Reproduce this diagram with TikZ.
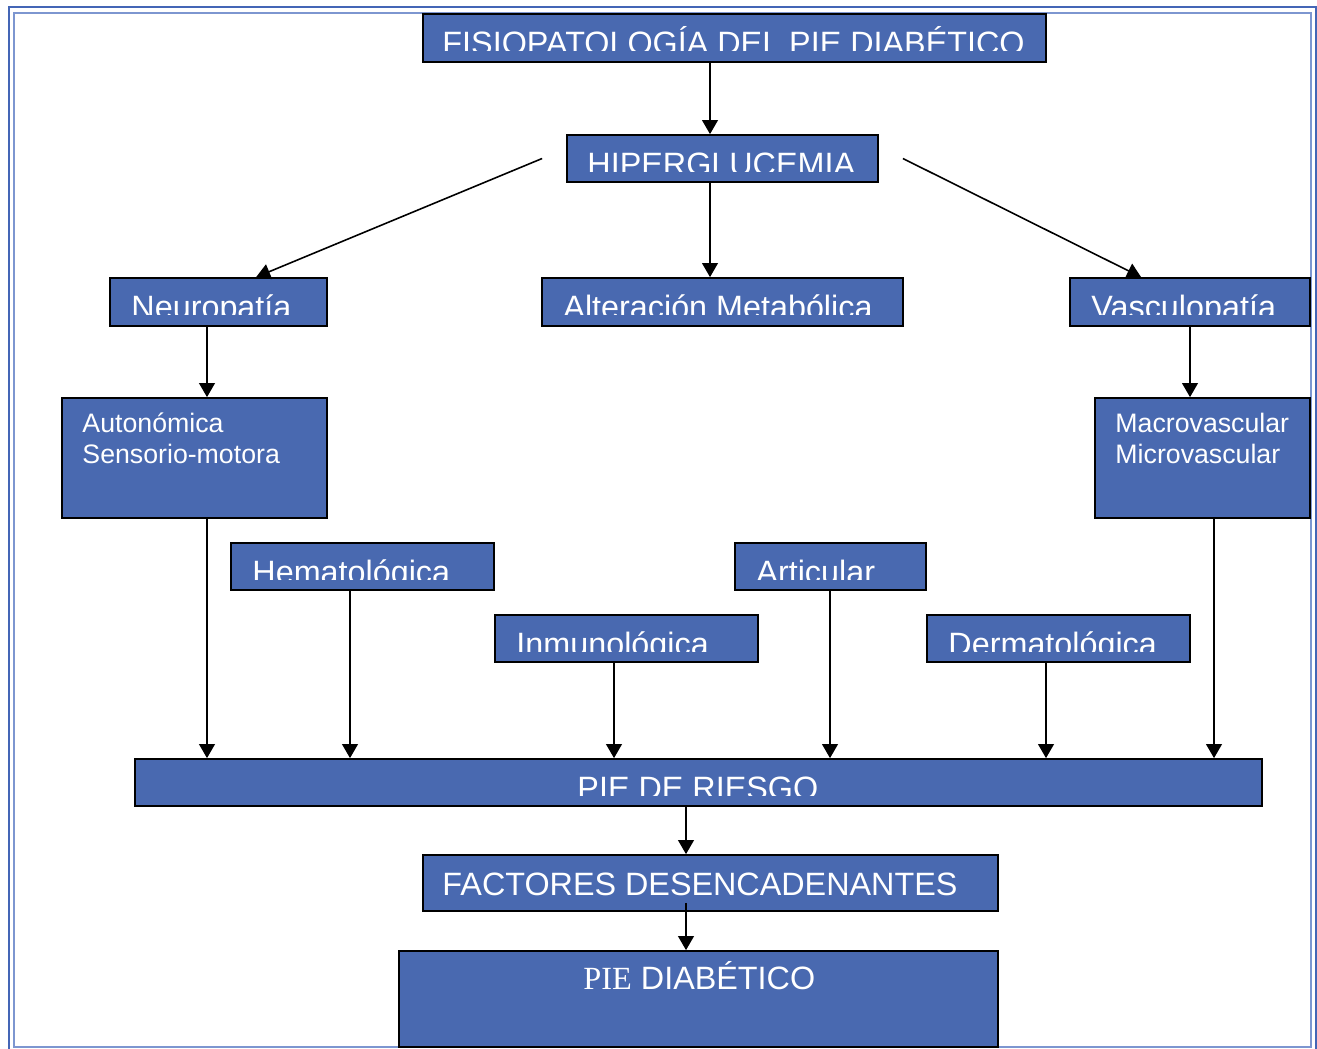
\documentclass[tikz,border=0pt]{standalone}
\usepackage{fontspec}
\setmainfont{Liberation Sans}
\newfontfamily\timesfont{Liberation Serif}
\usetikzlibrary{arrows.meta,calc,fit}

\definecolor{boxblue}{RGB}{73,105,176}
\definecolor{frameblue}{RGB}{68,102,182}
\definecolor{framelight}{RGB}{125,150,208}

\tikzset{
  box/.style={draw=black, line width=1pt, fill=boxblue, inner sep=0pt},
  lbl/.style={text=white, inner sep=0pt, font=\fontsize{18.4pt}{21pt}\selectfont},
  sublbl/.style={text=white, inner sep=0pt, align=left, font=\fontsize{15.2pt}{17.6pt}\selectfont},
  arr/.style={-{Triangle[length=8pt,width=9pt]}, line width=0.9pt},
}

% label cut off at the lower part of its box
\newcommand{\cutlabel}[3]{%
  \begin{scope}
    \clip (#1.north west) rectangle ($(#1.north east)+(0,37)$);
    \node[lbl, anchor=base west] (#1-text) at ($(#1.north west)+(#2,41)$) {#3};
  \end{scope}}

\begin{document}
\begin{tikzpicture}[x=0.02cm, y=-0.02cm]

\useasboundingbox (0,0) rectangle (1317,1048);
\draw[frameblue, line width=1.7pt] (9,7) rectangle (1316,1060);
\draw[framelight, line width=1.1pt] (14,13) rectangle (1311,1047);

% boxes
\node[box, fit={(423,14) (1046,62)}] (title) {};
\node[box, fit={(567,135) (878,182)}] (hiper) {};
\node[box, fit={(110,278) (327,326)}] (neuro) {};
\node[box, fit={(542,278) (903,326)}] (metab) {};
\node[box, fit={(1070,278) (1310,326)}] (vasc) {};
\node[box, fit={(62,398) (327,518)}] (auto) {};
\node[box, fit={(1095,398) (1310,518)}] (macro) {};
\node[box, fit={(231,543) (494,590)}] (hema) {};
\node[box, fit={(735,543) (926,590)}] (arti) {};
\node[box, fit={(495,615) (758,662)}] (inmu) {};
\node[box, fit={(927,615) (1190,662)}] (derm) {};
\node[box, fit={(135,759) (1262,806)}] (riesgo) {};
\node[box, fit={(423,855) (998,911)}] (factores) {};
\node[box, fit={(399,951) (998,1047)}] (diab) {};

% texts
\cutlabel{title}{20}{FISIOPATOLOGÍA DEL  PIE DIABÉTICO}
\cutlabel{hiper}{21}{HIPERGLUCEMIA}
\cutlabel{neuro}{22}{Neuropatía}
\cutlabel{metab}{22}{Alteración Metabólica}
\cutlabel{vasc}{22}{Vasculopatía}
\cutlabel{hema}{22}{Hematológica}
\cutlabel{arti}{22}{Articular}
\cutlabel{inmu}{22}{Inmunológica}
\cutlabel{derm}{22}{Dermatológica}
\cutlabel{riesgo}{443}{PIE DE RIESGO}
\node[sublbl, anchor=base west] (auto-text) at ($(auto.north west)+(21,66)$) {Autonómica\\Sensorio-motora};
\node[sublbl, anchor=base west] (macro-text) at ($(macro.north west)+(21,66)$) {Macrovascular\\Microvascular};
\node[lbl, anchor=base west] (factores-text) at ($(factores.north west)+(20,41)$) {FACTORES DESENCADENANTES};
\node[lbl, anchor=base west] (diab-text) at ($(diab.north west)+(185,39)$) {{\timesfont PIE} DIABÉTICO};

% columns of the vertical connectors
\foreach \n/\x in {top/710, left/207, right/1190, hem/350, inm/614, art/830, der/1046, mac/1214, low/686}
  \coordinate (col-\n) at (\x,0);
\coordinate (hl) at ($(hiper.west)+(-24,0)$);
\coordinate (hr) at ($(hiper.east)+(24,0)$);

% connectors
\draw[arr] (title.south -| col-top) -- (hiper.north -| col-top);
\draw[arr] (hiper.south -| col-top) -- (metab.north -| col-top);
\draw[arr] (hl) -- ($(neuro.north west)+(147,0)$);
\draw[arr] (hr) -- ($(vasc.north west)+(72,0)$);
\draw[arr] (neuro.south -| col-left) -- (auto.north -| col-left);
\draw[arr] (vasc.south -| col-right) -- (macro.north -| col-right);
\draw[arr] (auto.south -| col-left) -- (riesgo.north -| col-left);
\draw[arr] (hema.south -| col-hem) -- (riesgo.north -| col-hem);
\draw[arr] (inmu.south -| col-inm) -- (riesgo.north -| col-inm);
\draw[arr] (arti.south -| col-art) -- (riesgo.north -| col-art);
\draw[arr] (derm.south -| col-der) -- (riesgo.north -| col-der);
\draw[arr] (macro.south -| col-mac) -- (riesgo.north -| col-mac);
\draw[arr] (riesgo.south -| col-low) -- (factores.north -| col-low);
\draw[arr] ($(factores.south -| col-low)+(0,-9)$) -- (diab.north -| col-low);

\end{tikzpicture}
\end{document}
